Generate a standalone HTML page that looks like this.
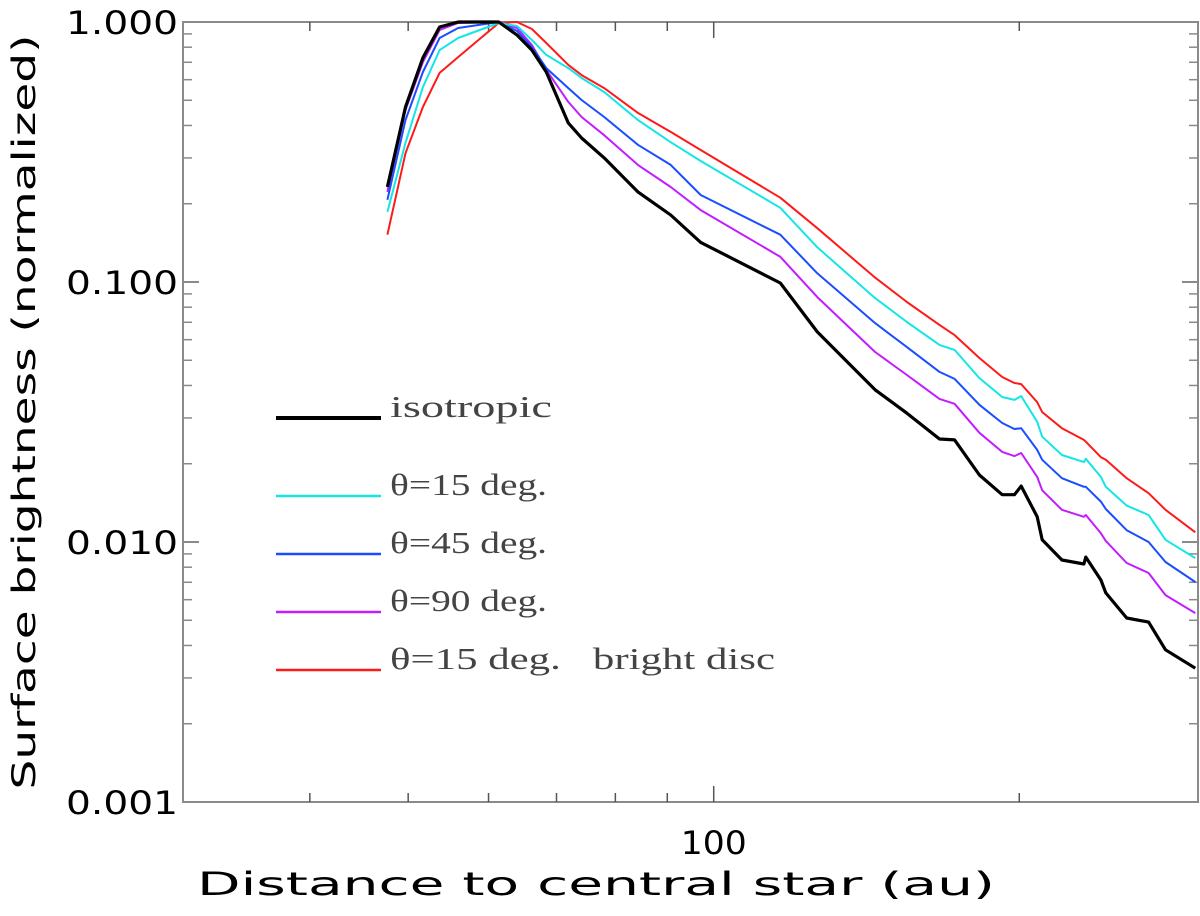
<!DOCTYPE html>
<html><head><meta charset="utf-8"><style>
html,body{margin:0;padding:0;background:#fff;}
svg{display:block;}
.tl{font-family:"DejaVu Sans","Liberation Sans",sans-serif;font-size:32px;fill:#000;}
.lg{font-family:"Liberation Serif",serif;font-size:31px;fill:#444;}
</style></head><body>
<svg id="chart" width="1200" height="916" viewBox="0 0 1200 916" xmlns="http://www.w3.org/2000/svg">
<g id="plot"></g>
</svg>
<script>
const xTicksMajor = [100];
const xTicksMinor = [40, 50, 60, 70, 80, 90, 200];
const xTickLabels = ["100"];
const yTicks = [0.001, 0.01, 0.1, 1];
const yTickLabels = ["0.001", "0.010", "0.100", "1.000"];
const distAu = [47.7,49.7,51.7,53.7,56.0,61.4,64.0,66.2,68.4,71.9,74.1,78.0,84.2,90.7,97.1,116.3,126.5,144.2,155.0,166.9,172.7,182.7,192.4,197.8,200.9,208.3,210.7,220.3,231.6,232.6,240.7,243.4,255.2,268.2,278.7,298.2];
const isotropic = [0.232,0.471,0.728,0.957,1.0,1.0,0.891,0.780,0.642,0.409,0.358,0.300,0.222,0.181,0.142,0.0991,0.0643,0.0385,0.0313,0.0249,0.0247,0.0181,0.0152,0.0152,0.0164,0.0125,0.0102,0.00853,0.00823,0.00875,0.00714,0.00637,0.00510,0.00492,0.00385,0.00327];
const theta15 = [0.186,0.343,0.562,0.780,0.868,0.991,0.965,0.853,0.747,0.665,0.609,0.538,0.420,0.345,0.292,0.193,0.136,0.0867,0.0702,0.0573,0.0548,0.0427,0.0361,0.0352,0.0364,0.0290,0.0254,0.0216,0.0203,0.0209,0.0178,0.0163,0.0138,0.0127,0.0102,0.00867];
const theta45 = [0.207,0.420,0.642,0.868,0.948,1.0,0.923,0.801,0.665,0.557,0.501,0.431,0.337,0.282,0.216,0.152,0.108,0.0695,0.0562,0.0451,0.0424,0.0337,0.0287,0.0272,0.0274,0.0226,0.0207,0.0176,0.0163,0.0163,0.0143,0.0134,0.0111,0.0100,0.00838,0.00702];
const theta90 = [0.222,0.459,0.702,0.932,0.991,1.0,0.948,0.816,0.654,0.493,0.431,0.367,0.282,0.232,0.189,0.125,0.0875,0.0538,0.0439,0.0355,0.0340,0.0263,0.0222,0.0214,0.0220,0.0178,0.0158,0.0133,0.0125,0.0127,0.0108,0.0101,0.00830,0.00760,0.00625,0.00533];
const theta15Bright = [0.152,0.313,0.471,0.637,0.733,0.991,1.0,0.940,0.830,0.684,0.625,0.557,0.447,0.378,0.322,0.211,0.161,0.104,0.0838,0.0684,0.0625,0.0510,0.0431,0.0409,0.0405,0.0345,0.0316,0.0274,0.0247,0.0243,0.0212,0.0207,0.0176,0.0154,0.0133,0.0109];

const L=183, R=1198, T=22, B=802;
const xMin=30, xMax=300, yMin=0.001, yMax=1;
function xs(v){return L+(Math.log10(v)-Math.log10(xMin))/(Math.log10(xMax)-Math.log10(xMin))*(R-L);}
function ys(v){return B-(Math.log10(v)-Math.log10(yMin))/(Math.log10(yMax)-Math.log10(yMin))*(B-T);}
const NS="http://www.w3.org/2000/svg";
const g=document.getElementById('plot');
function mk(tag,attrs,parent){const e=document.createElementNS(NS,tag);for(const k in attrs)e.setAttribute(k,attrs[k]);(parent||g).appendChild(e);return e;}

const frame=mk('rect',{x:L,y:T,width:R-L,height:B-T,fill:'none',stroke:'#8a8a8a','stroke-width':2});



for(let d=0; d<yTicks.length; d++){
  const v=yTicks[d], y=ys(v);
  const t1=mk('line',{x1:L,x2:L+16,y1:y,y2:y,stroke:'#8a8a8a','stroke-width':2});
  
  
  const t2=mk('line',{x1:R-16,x2:R,y1:y,y2:y,stroke:'#8a8a8a','stroke-width':2});
  
  
  const lb=mk('text',{x:L-5,y:y+12,'text-anchor':'end',class:'tl',textLength:112,lengthAdjust:'spacingAndGlyphs'});
  lb.textContent=yTickLabels[d];
  
  
  if(d<yTicks.length-1){
    for(let m=2;m<=9;m++){
      const ym=ys(v*m);
      const a=mk('line',{x1:L,x2:L+9,y1:ym,y2:ym,stroke:'#8a8a8a','stroke-width':1.5});
      
      
      const b=mk('line',{x1:R-9,x2:R,y1:ym,y2:ym,stroke:'#8a8a8a','stroke-width':1.5});
      
      
    }
  }
}
xTicksMajor.forEach((v,i)=>{
  const x=xs(v);
  const a=mk('line',{x1:x,x2:x,y1:B,y2:B-16,stroke:'#555','stroke-width':1.5});
  
  
  const b=mk('line',{x1:x,x2:x,y1:T,y2:T+16,stroke:'#555','stroke-width':1.5});
  
  
  const lb=mk('text',{x:x,y:B+52,'text-anchor':'middle',class:'tl',textLength:66,lengthAdjust:'spacingAndGlyphs'});
  lb.textContent=xTickLabels[i];
  
  
});
xTicksMinor.forEach(v=>{
  const x=xs(v);
  const a=mk('line',{x1:x,x2:x,y1:B,y2:B-9,stroke:'#555','stroke-width':1.5});
  
  
  const b=mk('line',{x1:x,x2:x,y1:T,y2:T+9,stroke:'#555','stroke-width':1.5});
  
  
});

const xt=mk('text',{x:596,y:895,'text-anchor':'middle',class:'tl',textLength:798,lengthAdjust:'spacingAndGlyphs'});
xt.textContent='Distance to central star (au)';


const yt=mk('text',{x:0,y:0,'text-anchor':'middle',class:'tl',textLength:755,lengthAdjust:'spacingAndGlyphs',transform:'translate(35,412) rotate(-90)'});
yt.textContent='Surface brightness (normalized)';



const series=[
  {vals:theta15Bright,color:'#ff1a1a',w:2,name:'series-theta15-bright-disc'},
  {vals:theta90,color:'#c21cff',w:2,name:'series-theta90'},
  {vals:theta45,color:'#1a4dff',w:2,name:'series-theta45'},
  {vals:theta15,color:'#14e6e6',w:2,name:'series-theta15'},
  {vals:isotropic,color:'#000',w:3.2,name:'series-isotropic'}
];
series.forEach(s=>{
  const pts=s.vals.map((v,i)=>xs(distAu[i]).toFixed(1)+','+ys(v).toFixed(1)).join(' ');
  const p=mk('polyline',{points:pts,fill:'none',stroke:s.color,'stroke-width':s.w,'stroke-linejoin':'round'});
  
  
});

const legend=[
  {label:'isotropic',color:'#000',w:4,y:418,len:162},
  {label:'\u03b8=15 deg.',color:'#14e6e6',w:2.5,y:496,len:157},
  {label:'\u03b8=45 deg.',color:'#1a4dff',w:2.5,y:554,len:157},
  {label:'\u03b8=90 deg.',color:'#c21cff',w:2.5,y:612,len:157},
  {label:'\u03b8=15 deg.   bright disc',color:'#ff1a1a',w:2.5,y:670,len:385}
];
legend.forEach(e=>{
  const ln=mk('line',{x1:276,x2:381,y1:e.y,y2:e.y,stroke:e.color,'stroke-width':e.w});
  
  
  const tx=mk('text',{x:390,y:e.y-1,class:'lg',textLength:e.len,lengthAdjust:'spacingAndGlyphs'});
  tx.style.whiteSpace='pre';
  tx.textContent=e.label;
  
  
});
</script>
</body></html>
